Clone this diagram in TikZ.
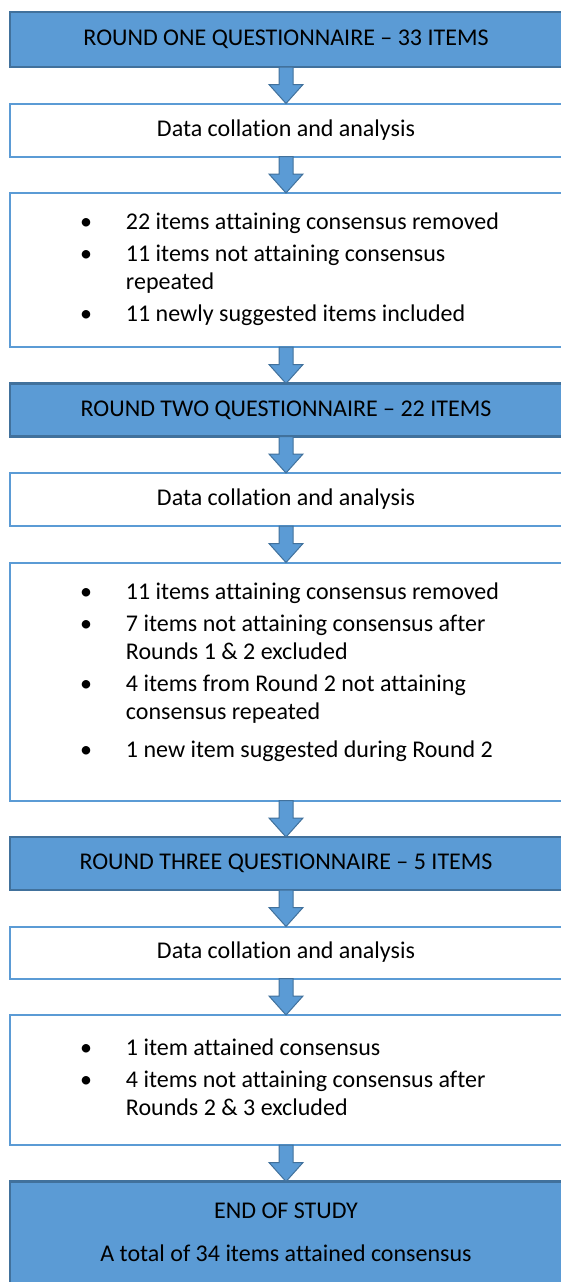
\documentclass[tikz,border=0pt]{standalone}
\usepackage{fontspec}
\setmainfont{Carlito}[Ligatures={TeX,NoCommon}]
\usepackage{xcolor}
\usetikzlibrary{positioning, calc}

\definecolor{stageblue}{HTML}{5B9BD5}
\definecolor{stageline}{HTML}{41719C}

% bullet lists inside the outcome boxes
\newcommand{\outcomes}[1]{\makebox[206pt][l]{\begin{tabular}{@{}p{23pt}@{}l@{}}#1\end{tabular}}}

\begin{document}
\begin{tikzpicture}[node distance=18.25pt, outer sep=0pt,
    every node/.style={font=\fontsize{12}{14}\selectfont},
    stage/.style={rectangle, draw=stageline, fill=stageblue, line width=1.2pt,
        minimum width=276pt, minimum height=26.5pt, align=center},
    task/.style={rectangle, draw=stageblue, fill=white, line width=1pt,
        minimum width=276pt, minimum height=26.5pt, align=center},
    flow/.style={draw=stageline, fill=stageblue, line width=0.5pt,
        to path={let \p1=(\tikztostart.south), \p2=(\tikztotarget.north) in
            (\x1-3.5pt,\y1) -- (\x1-3.5pt,\y2+9.5pt) -- (\x1-8.5pt,\y2+9.5pt) -- (\x1,\y2)
            -- (\x1+8.5pt,\y2+9.5pt) -- (\x1+3.5pt,\y2+9.5pt) -- (\x1+3.5pt,\y1) -- cycle}}]

    \useasboundingbox (0,0) rectangle (280.5pt,-641pt);
    \clip (0,0) rectangle (280.5pt,-641pt);

    % round one
    \node[stage, minimum height=27.5pt, anchor=north] (r1) at (143pt,-6pt) {ROUND ONE QUESTIONNAIRE – 33 ITEMS};
    \node[task, below=of r1] (d1) {Data collation and analysis};
    \node[task, below=of d1, minimum height=77pt] (o1) {\outcomes{
        \textbullet & 22 items attaining consensus removed\\[2pt]
        \textbullet & 11 items not attaining consensus\\
                    & repeated\\[2pt]
        \textbullet & 11 newly suggested items included}};

    % round two
    \node[stage, below=of o1] (r2) {ROUND TWO QUESTIONNAIRE – 22 ITEMS};
    \node[task, below=of r2] (d2) {Data collation and analysis};
    \node[task, below=of d2, minimum height=119pt] (o2) {\outcomes{
        \textbullet & 11 items attaining consensus removed\\[2pt]
        \textbullet & 7 items not attaining consensus after\\
                    & Rounds 1 \& 2 excluded\\[2pt]
        \textbullet & 4 items from Round 2 not attaining\\
                    & consensus repeated\\[5pt]
        \textbullet & 1 new item suggested during Round 2\\[9pt]}};

    % round three
    \node[stage, below=of o2] (r3) {ROUND THREE QUESTIONNAIRE – 5 ITEMS};
    \node[task, below=of r3, minimum height=26pt] (d3) {Data collation and analysis};
    \node[task, below=of d3, minimum height=65pt] (o3) {\outcomes{
        \textbullet & 1 item attained consensus\\[2pt]
        \textbullet & 4 items not attaining consensus after\\
                    & Rounds 2 \& 3 excluded}};

    \node[stage, below=of o3, minimum height=51pt] (end) {END OF STUDY\\[7.5pt] A total of 34 items attained consensus};

    \path (r1) edge[flow] (d1)
          (d1) edge[flow] (o1)
          (o1) edge[flow] (r2)
          (r2) edge[flow] (d2)
          (d2) edge[flow] (o2)
          (o2) edge[flow] (r3)
          (r3) edge[flow] (d3)
          (d3) edge[flow] (o3)
          (o3) edge[flow] (end);
\end{tikzpicture}
\end{document}
